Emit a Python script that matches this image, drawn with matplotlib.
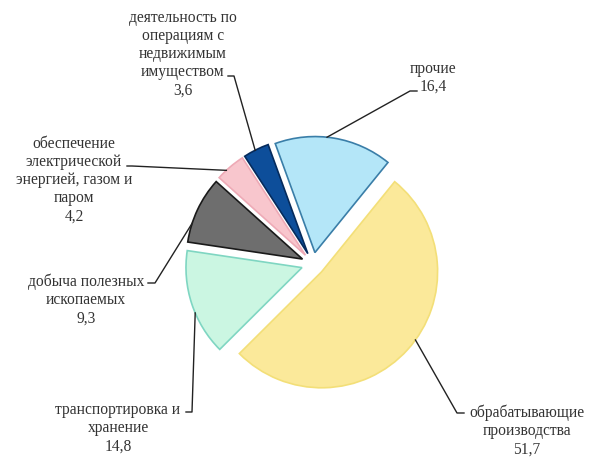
import matplotlib.pyplot as plt
import numpy as np

# structure of activity, percent
labels = ['прочие',
          'обрабатывающие\nпроизводства',
          'транспортировка и\nхранение',
          'добыча полезных\nископаемых',
          'обеспечение\nэлектрической\nэнергией, газом и\nпаром',
          'деятельность по\nоперациям с\nнедвижимым\nимуществом']
values = [16.4, 51.7, 14.8, 9.3, 4.2, 3.6]

fills = ['#b4e6f8', '#fbe99a', '#cbf6e2', '#6e6e6e', '#f8c6cd', '#0d4e9a']
edges = ['#3a7ea8', '#f3df78', '#7fd6c2', '#1a1a1a', '#eeaab6', '#062b5c']

# layout in pixels of the 597x459 image
W, H = 597, 459
CX, CY, R = 313, 264, 116


def px(x, y):
    return (x - CX) / R, (CY - y) / R


# label centre, leader start, elbow, angle on the wedge where leader ends
text_pos = [(433, 78), (527, 431), (118, 428), (86, 300), (74, 180), (183, 54)]
lead_start = [(417, 91), (464, 413), (186, 412), (148, 283), (127, 166), (228, 76)]
lead_elbow = [(410, 91), (457, 413), (192, 412), (155, 283), (132, 166), (234, 76)]
anchor_ang = [84, -36, 203, 162, 133, 117]

fig = plt.figure(figsize=(W / 100, H / 100), dpi=100)
ax = fig.add_axes([0, 0, 1, 1])

wedges, _ = ax.pie(values, startangle=110, counterclock=False,
                   explode=[0.1] * len(values), radius=1,
                   colors=fills,
                   wedgeprops=dict(linewidth=1.2))
for w, ec in zip(wedges, edges):
    w.set_edgecolor(ec)

for i, w in enumerate(wedges):
    a = np.deg2rad(anchor_ang[i])
    cx, cy = w.center
    ex, ey = cx + w.r * np.cos(a), cy + w.r * np.sin(a)
    p0 = px(*lead_start[i])
    p1 = px(*lead_elbow[i])
    ax.plot([p0[0], p1[0], ex], [p0[1], p1[1], ey], color='#222222', lw=1.0,
            zorder=5)
    tx, ty = px(*text_pos[i])
    ax.text(tx, ty, labels[i] + '\n' + str(values[i]).replace('.', ','),
            ha='center', va='center', fontsize=11.2, linespacing=1.18,
            family='Liberation Serif', color='#333333')

ax.set_aspect('equal')
ax.set_xlim(-CX / R, (W - CX) / R)
ax.set_ylim(-(H - CY) / R, CY / R)
ax.axis('off')

fig.savefig('out.png', dpi=100)
